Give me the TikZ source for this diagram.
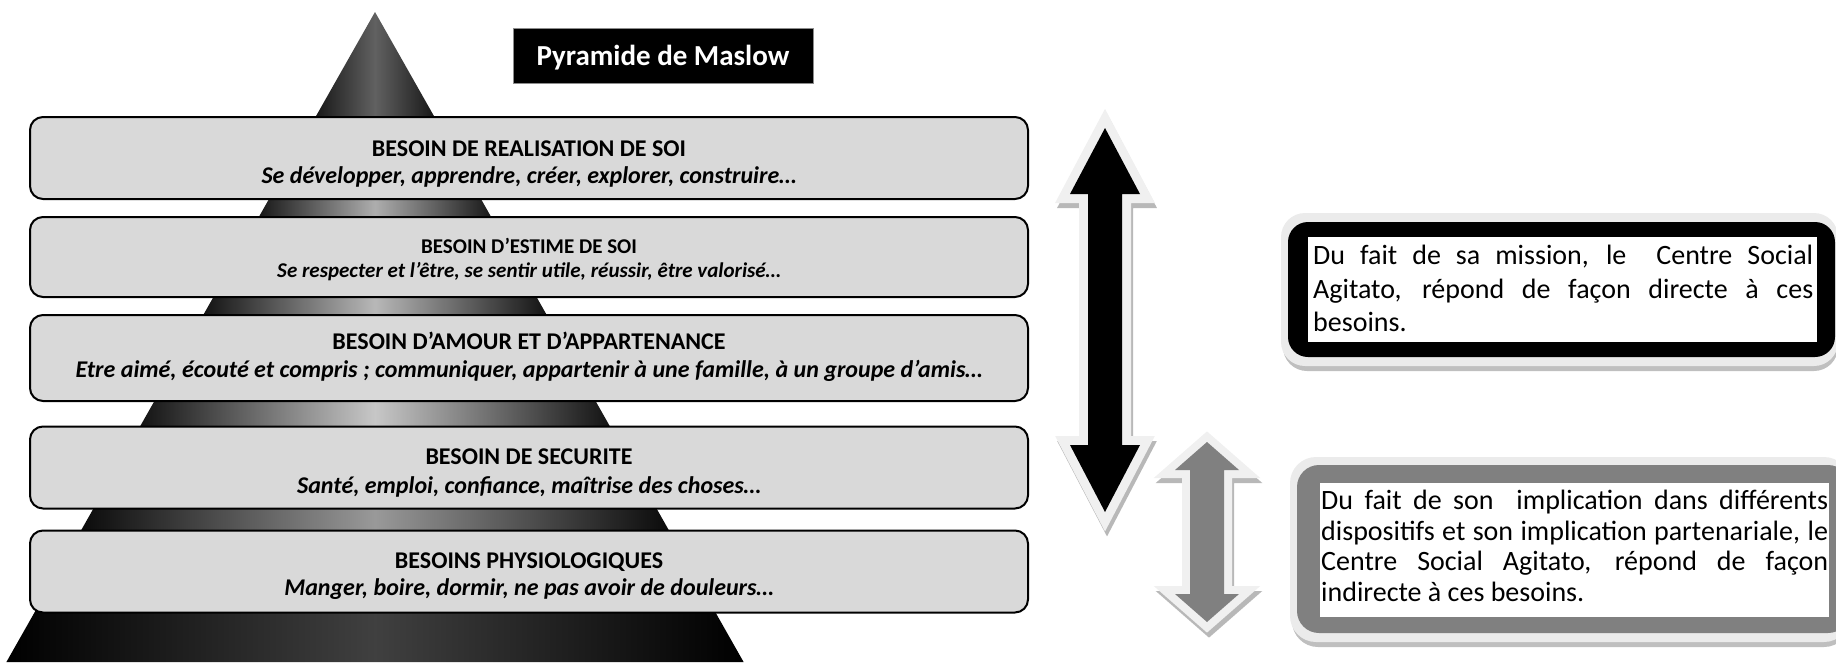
\documentclass[tikz,border=0pt]{standalone}
\usepackage{fontspec}
\setmainfont{Carlito}
\hyphenpenalty=10000
\exhyphenpenalty=10000

\tikzset{
  niveau/.style={draw, line width=2pt, rounded corners=13pt, fill=black!15,
    minimum width=998pt, minimum height=82pt, align=center, text height=55pt,
    font=\fontsize{24}{27}\selectfont},
  fleche/.style 2 args={draw=black!6, line width=#1, line join=miter,
    preaction={draw=black!28, line width=#1, transform canvas={shift={(2,5)}}},
    postaction={fill=#2}},
  texte/.style={text width=#1, align=justify, inner sep=0pt, anchor=north west,
    font=\fontsize{28}{33.5}\selectfont}
}

\begin{document}
\begin{tikzpicture}[x=1pt,y=-1pt]
  \useasboundingbox (0,0) rectangle (1836,662);

  \shade[left color=black, right color=black, middle color=black!62]
    (375,12) -- (453.2,150) -- (296.8,150) -- cycle;
  \shade[left color=black, right color=black, middle color=black!32]
    (296.8,150) -- (453.2,150) -- (509.9,250) -- (240.1,250) -- cycle;
  \shade[left color=black, right color=black, middle color=black!28]
    (240.1,250) -- (509.9,250) -- (566.6,350) -- (183.4,350) -- cycle;
  \shade[left color=black, right color=black, middle color=black!22]
    (183.4,350) -- (566.6,350) -- (634.7,470) -- (115.3,470) -- cycle;
  \shade[left color=black, right color=black, middle color=black!40]
    (115.3,470) -- (634.7,470) -- (691.4,570) -- (58.6,570) -- cycle;
  \shade[left color=black, right color=black, middle color=black!75]
    (58.6,570) -- (691.4,570) -- (743.6,662) -- (6.4,662) -- cycle;

  \begin{scope}[every node/.style={niveau}]
    \node (realisation) at (529,158) {\textbf{BESOIN DE REALISATION DE SOI}\\
      \textbf{\textit{Se développer, apprendre, créer, explorer, construire…}}};
    \node (estime) [minimum height=80pt, text height=44pt, font=\fontsize{21}{24}\selectfont]
      at (529,257) {\textbf{BESOIN D’ESTIME DE SOI}\\
      \textbf{\textit{Se respecter et l’être, se sentir utile, réussir, être valorisé…}}};
    \node (amour) [minimum height=86pt, text height=44pt, font=\fontsize{24}{28}\selectfont]
      at (529,358) {\textbf{BESOIN D’AMOUR ET D’APPARTENANCE}\\
      \textbf{\textit{Etre aimé, écouté et compris ; communiquer, appartenir à une famille, à un groupe d’amis…}}};
    \node (securite) [text height=56pt, font=\fontsize{24}{29}\selectfont] at (529,467.5)
      {\textbf{BESOIN DE SECURITE}\\
      \textbf{\textit{Santé, emploi, confiance, maîtrise des choses…}}};
    \node (physio) [text height=52pt] at (529,571.5) {\textbf{BESOINS PHYSIOLOGIQUES}\\
      \textbf{\textit{Manger, boire, dormir, ne pas avoir de douleurs…}}};
  \end{scope}

  \node (titre) [fill=black, draw=black!45, line width=0.8pt, minimum width=300pt,
    minimum height=55pt, text depth=0pt, text=white,
    font=\fontsize{29}{32}\selectfont\bfseries] at (663,55.5) {Pyramide de Maslow};

  \path[fleche={18pt}{black}] (1105,128) -- (1140,194) -- (1122,194) -- (1122,445)
    -- (1140,445) -- (1105,512) -- (1070,445) -- (1088,445) -- (1088,194)
    -- (1070,194) -- cycle;
  \path[fleche={16pt}{black!50}] (1207,442) -- (1239,470) -- (1224,470) -- (1224,594)
    -- (1239,594) -- (1207,622) -- (1175,594) -- (1190,594) -- (1190,470)
    -- (1175,470) -- cycle;

  % cadres
  \fill[black!25, rounded corners=24pt] (1283,219) rectangle (1838,371);
  \fill[black!8, rounded corners=24pt] (1281,213) rectangle (1838,366);
  \fill[black, rounded corners=20pt] (1288,222) rectangle (1835,357);
  \fill[white] (1308,237) rectangle (1817,342);

  \fill[black!25, rounded corners=26pt] (1292,463) rectangle (1850,647);
  \fill[black!8, rounded corners=26pt] (1290,457) rectangle (1850,642);
  \fill[black!50, rounded corners=22pt] (1297,465) rectangle (1850,633);
  \fill[white] (1320,483) rectangle (1829,617);

  \node (direct) [texte=500pt] at (1313,245)
    {Du fait de sa mission, le\ \ Centre Social\linebreak
     Agitato, répond de façon directe à ces\linebreak besoins.};
  \node (indirect) [texte=507pt, font=\fontsize{28}{30.5}\selectfont] at (1321,490)
    {Du fait de son\ \ implication dans différents\linebreak
     dispositifs et son implication partenariale, le\linebreak
     Centre Social Agitato, répond de façon\linebreak indirecte à ces besoins.};

\end{tikzpicture}
\end{document}
